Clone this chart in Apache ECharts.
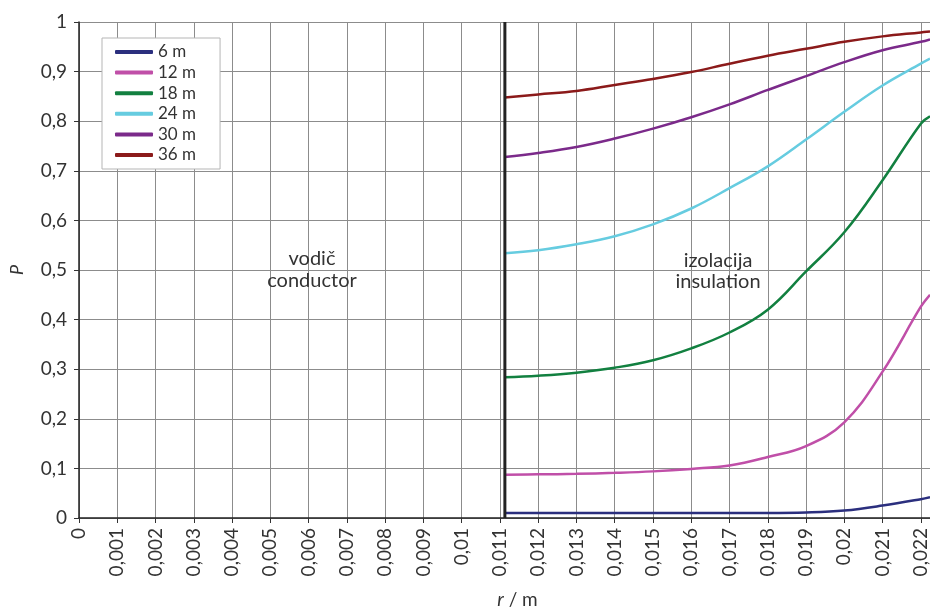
<!DOCTYPE html>
<html>
<head>
<meta charset="utf-8">
<script src="https://cdn.jsdelivr.net/npm/echarts@6/dist/echarts.min.js"></script>
<style>
html,body{margin:0;padding:0;background:#fff;}
#chart{width:930px;height:609px;}
</style>
</head>
<body>
<div id="chart"></div>
<script>
// Data
const xValues = [0.01113, 0.012, 0.013, 0.014, 0.015, 0.016, 0.017, 0.018, 0.019, 0.020, 0.021, 0.022, 0.02224];
const s6  = [0.010, 0.010, 0.010, 0.010, 0.010, 0.010, 0.010, 0.010, 0.011, 0.015, 0.025, 0.038, 0.042];
const s12 = [0.087, 0.088, 0.089, 0.091, 0.094, 0.099, 0.106, 0.123, 0.145, 0.193, 0.295, 0.426, 0.450];
const s18 = [0.284, 0.287, 0.293, 0.303, 0.318, 0.342, 0.374, 0.420, 0.497, 0.576, 0.681, 0.795, 0.810];
const s24 = [0.534, 0.540, 0.552, 0.568, 0.592, 0.624, 0.665, 0.709, 0.763, 0.819, 0.872, 0.916, 0.926];
const s30 = [0.728, 0.736, 0.748, 0.765, 0.785, 0.808, 0.834, 0.863, 0.891, 0.919, 0.943, 0.960, 0.965];
const s36 = [0.848, 0.854, 0.861, 0.873, 0.885, 0.899, 0.916, 0.932, 0.946, 0.960, 0.971, 0.979, 0.981];
const seriesNames = ['6 m', '12 m', '18 m', '24 m', '30 m', '36 m'];
const seriesValues = [s6, s12, s18, s24, s30, s36];
const boundaryX = 0.01113;
const xMin = 0, xMax = 0.02224, xInterval = 0.001;
const yMin = 0, yMax = 1, yInterval = 0.1;

const colors = ['#2b2f7e', '#c04fa8', '#128040', '#66cce0', '#7b2a8a', '#8b1a1a'];
const FONT = 'Lato, "Noto Sans", sans-serif';
const TXT = '#333';

function fmt(v, d) {
  const r = Math.round(v * Math.pow(10, d)) / Math.pow(10, d);
  return String(r).replace('.', ',');
}

const chart = echarts.init(document.getElementById('chart'), null, {renderer: 'canvas'});

const series = seriesNames.map((name, i) => ({
  name: name,
  type: 'line',
  smooth: 0.4,
  symbol: 'none',
  lineStyle: {color: colors[i], width: 2.5},
  itemStyle: {color: colors[i]},
  data: xValues.map((x, j) => [x, seriesValues[i][j]]),
  z: 3
}));

// conductor / insulation boundary
series.push({
  name: 'boundary',
  type: 'line',
  symbol: 'none',
  silent: true,
  lineStyle: {color: '#222', width: 3},
  data: [[boundaryX, yMin], [boundaryX, yMax]],
  z: 5
});

const option = {
  backgroundColor: '#fff',
  animation: false,
  textStyle: {fontFamily: FONT},
  grid: {left: 79, right: 0, top: 22, bottom: 91, containLabel: false, outerBoundsMode: 'none'},
  legend: {
    orient: 'vertical',
    left: 102,
    top: 38,
    data: seriesNames,
    icon: 'roundRect',
    itemWidth: 38,
    itemHeight: 4,
    itemGap: 3.6,
    itemTextGap: 6,
    padding: [5.5, 24, 5.5, 13],
    backgroundColor: '#fff',
    borderColor: '#b5b5b5',
    borderWidth: 1,
    textStyle: {fontSize: 17, lineHeight: 17, color: TXT, fontFamily: FONT}
  },
  xAxis: {
    type: 'value',
    min: xMin,
    max: xMax,
    interval: xInterval,
    name: '{i|r} / m',
    nameLocation: 'middle',
    nameGap: 72,
    nameTextStyle: {
      fontSize: 19, color: TXT, fontFamily: FONT, padding: [0, 0, 0, 26],
      rich: {i: {fontStyle: 'italic', fontSize: 19, color: TXT, fontFamily: FONT}}
    },
    axisLine: {show: true, onZero: false, lineStyle: {color: '#222', width: 1.5}},
    axisTick: {show: true, length: 5, lineStyle: {color: '#333'}},
    axisLabel: {
      rotate: 90, margin: 10, fontSize: 19, color: TXT, fontFamily: FONT,
      showMaxLabel: false,
      formatter: v => fmt(v, 3)
    },
    splitLine: {show: true, lineStyle: {color: '#8c8c8c', width: 1}}
  },
  yAxis: {
    type: 'value',
    min: yMin,
    max: yMax,
    interval: yInterval,
    name: 'P',
    nameLocation: 'middle',
    nameGap: 53,
    nameRotate: 90,
    nameTextStyle: {fontSize: 18, fontStyle: 'italic', color: TXT, fontFamily: FONT},
    axisLine: {show: true, onZero: false, lineStyle: {color: '#222', width: 1.5}},
    axisTick: {show: true, length: 5, lineStyle: {color: '#333'}},
    axisLabel: {
      margin: 12, fontSize: 19, color: TXT, fontFamily: FONT,
      formatter: v => fmt(v, 1)
    },
    splitLine: {show: true, lineStyle: {color: '#8c8c8c', width: 1}}
  },
  graphic: [
    {
      type: 'text', left: 312 - 55, top: 248, z: 10,
      style: {text: 'vodič\nconductor', fill: TXT, font: '20px ' + FONT, textAlign: 'center', width: 110, lineHeight: 22, align: 'center'}
    },
    {
      type: 'text', left: 718 - 55, top: 250, z: 10,
      style: {text: 'izolacija\ninsulation', fill: TXT, font: '20px ' + FONT, textAlign: 'center', width: 110, lineHeight: 21, align: 'center'}
    }
  ],
  series: series
};

chart.setOption(option);
</script>
</body>
</html>
